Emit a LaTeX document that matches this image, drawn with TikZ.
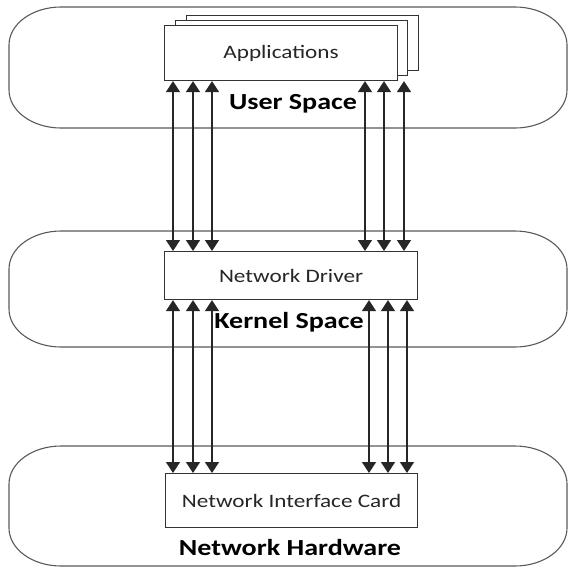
\documentclass[tikz,border=0pt]{standalone}
\usepackage{fontspec}
\setmainfont{Carlito}[FakeStretch=1.22]
\usetikzlibrary{arrows.meta,calc}

\begin{document}
\begin{tikzpicture}[x=1pt,y=-1pt,
  band/.style={draw=black!65, line width=1.1pt},
  box/.style={draw=black!80, line width=1.1pt, fill=white, inner sep=0pt,
    anchor=north west, text=black!85, font=\fontsize{19}{22}\selectfont},
  lab/.style={text=black, font=\fontsize{23}{26}\selectfont\bfseries, inner sep=0pt},
  link/.style={draw=black!85, line width=1.4pt,
    {Triangle[length=11pt,width=14pt]}-{Triangle[length=11pt,width=14pt]}}
]
\useasboundingbox (0,0) rectangle (569,568);

% three layer bands with elliptical corners
\foreach \ya/\yb in {7/128, 231/347, 446/566}
  \draw[band] (61,\ya) -- (515,\ya)
    .. controls (543.7,\ya) and (567,{\ya+17}) .. (567,{\ya+38})
    -- (567,{\yb-38})
    .. controls (567,{\yb-17}) and (543.7,\yb) .. (515,\yb)
    -- (61,\yb)
    .. controls (32.3,\yb) and (9,{\yb-17}) .. (9,{\yb-38})
    -- (9,{\ya+38})
    .. controls (9,{\ya+17}) and (32.3,\ya) .. (61,\ya) -- cycle;

% stacked application boxes
\node[box, minimum width=232pt, minimum height=55pt] (app3) at (186,15) {};
\node[box, minimum width=232pt, minimum height=55pt] (app2) at (175,20) {};
\node[box, minimum width=233pt, minimum height=55pt] (app) at (164,25) {Applications};

\node[box, minimum width=253pt, minimum height=48pt] (drv) at (164,251) {Network Driver};
\node[box, minimum width=252pt, minimum height=54pt] (nic) at (165,473) {Network Interface Card};

% layer labels
\node[lab] (us) at (293,104) {User Space};
\node[lab] (ks) at (289,322) {Kernel Space};
\node[lab] (nh) at (290,548) {Network Hardware};

% data paths between the layers
\foreach \dx in {9,29,48,201,220,240}
  \draw[link] ([xshift=\dx pt]app.south west) -- ([xshift=\dx pt]drv.north west);
\foreach \dx in {9,29,48,205,224,243}
  \draw[link] ([xshift=\dx pt]drv.south west) -- ([xshift=\dx pt]drv.south west |- nic.north);
\end{tikzpicture}
\end{document}
